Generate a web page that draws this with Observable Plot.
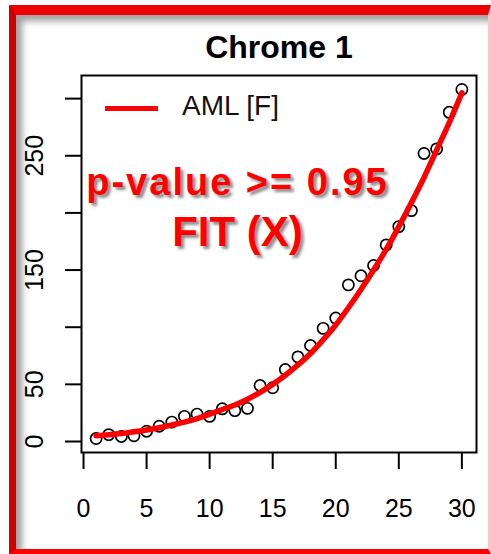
<!DOCTYPE html>
<html>
<head>
<meta charset="utf-8">
<script src="https://cdn.jsdelivr.net/npm/d3@7"></script>
<script src="https://cdn.jsdelivr.net/npm/@observablehq/plot@0.6"></script>
<style>
  html, body { margin: 0; padding: 0; background: #fff; }
  body { width: 491px; height: 554px; position: relative; overflow: hidden; font-family: "Liberation Sans", Arial, sans-serif; }
  #frame {
    position: absolute; left: 9px; top: 5px; width: 482px; height: 549px; box-sizing: border-box;
    border-left: 7px solid #d00000; border-top: 10px solid #ee0000; border-bottom: 5px solid #ff0000;
    border-right: 3px solid #f6c9c9;
    box-shadow: inset 6px 6px 7px rgba(0,0,0,0.38);
    background: #fff;
  }
  #chart { position: absolute; left: 0; top: 0; }
  .ann { position: absolute; width: 400px; text-align: center; white-space: nowrap; color: #ff0000; font-weight: bold;
         text-shadow: 3px 3px 3px rgba(0,0,0,0.45); }
  #legend { position: absolute; left: 105px; top: 92px; height: 32px; }
  #legend .sw { position: absolute; left: 0; top: 14px; width: 53px; height: 5px; background: #ff0000; }
  #legend .lb { position: absolute; left: 77px; top: 0; font-size: 28px; line-height: 28px; color: #111; white-space: nowrap; }
</style>
</head>
<body>
<div id="frame"></div>
<div id="chart"></div>
<div id="legend"><div class="sw"></div><div class="lb"></div></div>
<div class="ann" id="ann1"></div>
<div class="ann" id="ann2"></div>
<script>
// ---- data ----
const title = "Chrome 1";
const seriesName = "AML [F]";
const annotationLines = ["p-value >= 0.95", "FIT (X)"];
const xValues = [1,2,3,4,5,6,7,8,9,10,11,12,13,14,15,16,17,18,19,20,21,22,23,24,25,26,27,28,29,30];
const observed = [2.6,6,4.4,5,9,13.4,17,22,24,22,28.6,27,29,49,47,63,74,84,99,108,137,145,154,172,188,202,252,256,288,308];
const fitted = [5,6,7,8.5,10,12,14.5,17,20,24,28,32,37,43,50,58,67,77,89,102,117,133,150,168,188,209,231,255,279,305];
const xTicks = [0,5,10,15,20,25,30];
const yTicks = [0,50,100,150,200,250,300];
const yTickLabels = [0,50,150,250];

const obsData = xValues.map((x, i) => ({x, y: observed[i]}));
const fitData = xValues.map((x, i) => ({x, y: fitted[i]}));

// R-style 4% padding of the data range
function pad(ext) { const d = (ext[1] - ext[0]) * 0.04; return [ext[0] - d, ext[1] + d]; }
const xDomain = pad(d3.extent(xValues));
const yDomain = pad(d3.extent(observed.concat(fitted)));

const plot = Plot.plot({
  width: 491,
  height: 554,
  marginLeft: 81,
  marginRight: 15,
  marginTop: 75,
  marginBottom: 102,
  x: {domain: xDomain},
  y: {domain: yDomain},
  style: {fontFamily: "'Liberation Sans', Arial, sans-serif", fontSize: "25px", color: "black", background: "transparent", overflow: "visible"},
  marks: [
    Plot.axisX({ticks: xTicks, tickSize: 17, tickPadding: 30, fontSize: 25, strokeWidth: 2, label: null, tickFormat: d => String(d)}),
    Plot.axisY({ticks: yTicks, tickSize: 16, tickPadding: 23, tickRotate: -90, fontSize: 25, strokeWidth: 2, label: null,
                tickFormat: d => yTickLabels.includes(d) ? String(d) : ""}),
    Plot.dot(obsData, {x: "x", y: "y", r: 5.6, stroke: "black", strokeWidth: 1.7, fill: "none"}),
    Plot.line(fitData, {x: "x", y: "y", stroke: "#ff0000", strokeWidth: 5.5, curve: "catmull-rom"}),
    Plot.frame({stroke: "black", strokeWidth: 2}),
    Plot.text([title], {frameAnchor: "top", dy: -18, lineAnchor: "bottom", fontSize: 32, fontWeight: "bold", fill: "black"})
  ]
});
document.getElementById("chart").appendChild(plot);

document.querySelector("#legend .lb").textContent = seriesName;

const a1 = document.getElementById("ann1");
a1.textContent = annotationLines[0];
a1.style.cssText = "left:37.5px; top:162.8px; font-size:38px; line-height:38px; letter-spacing:2px;";
const a2 = document.getElementById("ann2");
a2.textContent = annotationLines[1];
a2.style.cssText = "left:37.5px; top:211.1px; font-size:42px; line-height:42px;";
</script>
</body>
</html>
